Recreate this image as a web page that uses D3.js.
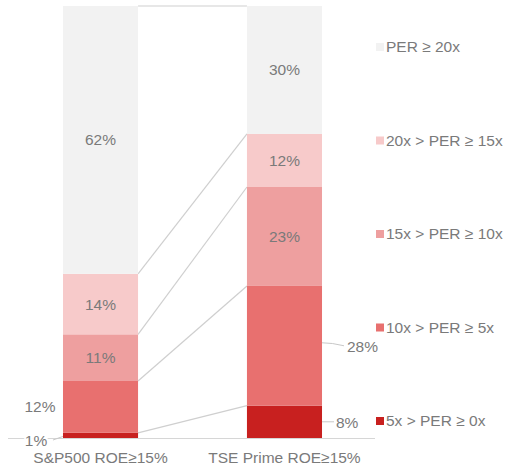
<!DOCTYPE html>
<html><head><meta charset="utf-8">
<script src="https://cdn.jsdelivr.net/npm/d3@7"></script>
<style>body{margin:0;background:#fff}svg{display:block}text{font-family:"Liberation Sans",Arial,sans-serif;fill:#7a7a7a}</style>
</head><body>
<svg id="c" width="507" height="467"></svg>
<script>
const categories = ["S&P500 ROE≥15%", "TSE Prime ROE≥15%"];
const bands = ["5x > PER ≥ 0x", "10x > PER ≥ 5x", "15x > PER ≥ 10x", "20x > PER ≥ 15x", "PER ≥ 20x"];
const sp500 = [1.2, 12.0, 10.8, 14.0, 62.0];
const tse = [7.5, 27.7, 22.9, 12.3, 29.6];
const colors = ["#c8201f", "#e8706f", "#ee9f9f", "#f7caca", "#f2f2f2"];
const yTicks = [0, 100];

const svg = d3.select("#c");
const x = d3.scaleBand().domain(categories).range([7.8, 377.2]).paddingInner(0.592).paddingOuter(0.3);
const y = d3.scaleLinear().domain([0, 100]).range([438, 6]);

const stack = d3.stack().keys(bands)(categories.map(c => {
  const o = {cat: c};
  bands.forEach((b, i) => o[b] = (c === categories[0] ? sp500 : tse)[i]);
  return o;
}));

// connector lines between bars
const L = x(categories[0]) + x.bandwidth(), R = x(categories[1]);
stack.forEach((s, i) => {
  svg.append("line").attr("x1", L).attr("x2", R)
    .attr("y1", y(s[0][1])).attr("y2", y(s[1][1]))
    .attr("stroke", "#cfcfcf").attr("stroke-width", 1.2);
});

// bars
stack.forEach((s, i) => {
  svg.selectAll(null).data(s).enter().append("rect")
    .attr("x", d => x(d.data.cat)).attr("width", x.bandwidth())
    .attr("y", d => y(d[1])).attr("height", d => y(d[0]) - y(d[1]))
    .attr("fill", colors[i]);
});

// axis line
svg.append("line").attr("x1", 8).attr("x2", 375).attr("y1", y(yTicks[0]) + 0.5).attr("y2", y(yTicks[0]) + 0.5)
  .attr("stroke", "#d6d6d6").attr("stroke-width", 1);

const fs = 15.5;
stack.forEach((s, i) => {
  s.forEach((d, j) => {
    const v = d[1] - d[0];
    const lab = Math.round(v) + "%";
    const cx = x(d.data.cat) + x.bandwidth() / 2, cy = (y(d[0]) + y(d[1])) / 2;
    if (i <= 1 && j === 0) {
      // outside-left labels for the S&P bar's two lowest segments
      if (i === 0) {
        svg.append("line").attr("x1", x(d.data.cat) - 10).attr("x2", x(d.data.cat)).attr("y1", 440).attr("y2", cy + 1).attr("stroke", "#c8c8c8");
        svg.append("text").attr("x", 36).attr("y", 441).attr("text-anchor", "middle").attr("dy", "0.35em")
          .attr("font-size", fs).attr("stroke", "#fff").attr("stroke-width", 4).attr("paint-order", "stroke").text(lab);
      } else {
        svg.append("text").attr("x", 40).attr("y", cy).attr("text-anchor", "middle").attr("dy", "0.35em")
          .attr("font-size", fs).text(lab);
      }
    } else if (i <= 1 && j === 1) {
      // outside-right labels for the TSE bar's two lowest segments
      const bx = x(d.data.cat) + x.bandwidth();
      if (i === 0) {
        svg.append("line").attr("x1", bx).attr("x2", bx + 12).attr("y1", cy).attr("y2", cy).attr("stroke", "#c8c8c8");
        svg.append("text").attr("x", bx + 14).attr("y", cy + 1).attr("dy", "0.35em").attr("font-size", fs).text(lab);
      } else {
        svg.append("path").attr("d", `M${bx},${cy - 3} Q${bx + 10},${cy - 3} ${bx + 22},${cy}`).attr("fill", "none").attr("stroke", "#c8c8c8");
        svg.append("text").attr("x", bx + 25).attr("y", cy + 1).attr("dy", "0.35em").attr("font-size", fs).text(lab);
      }
    } else {
      svg.append("text").attr("x", cx).attr("y", cy).attr("text-anchor", "middle").attr("dy", "0.35em")
        .attr("font-size", fs).text(lab);
    }
  });
});

// category labels
categories.forEach(c => {
  svg.append("text").attr("x", x(c) + x.bandwidth() / 2).attr("y", 458).attr("dy", "0.35em")
    .attr("text-anchor", "middle").attr("font-size", fs).text(c);
});

// legend
const legY = d3.scaleLinear().domain([0, 4]).range([421, 47]);
bands.forEach((b, i) => {
  const g = svg.append("g").attr("transform", `translate(376,${legY(i)})`);
  g.append("rect").attr("x", 0).attr("y", -4).attr("width", 8).attr("height", 8).attr("fill", colors[i]);
  g.append("text").attr("x", 10).attr("y", 0).attr("dy", "0.35em").attr("font-size", fs).text(b);
});
</script>
</body></html>
